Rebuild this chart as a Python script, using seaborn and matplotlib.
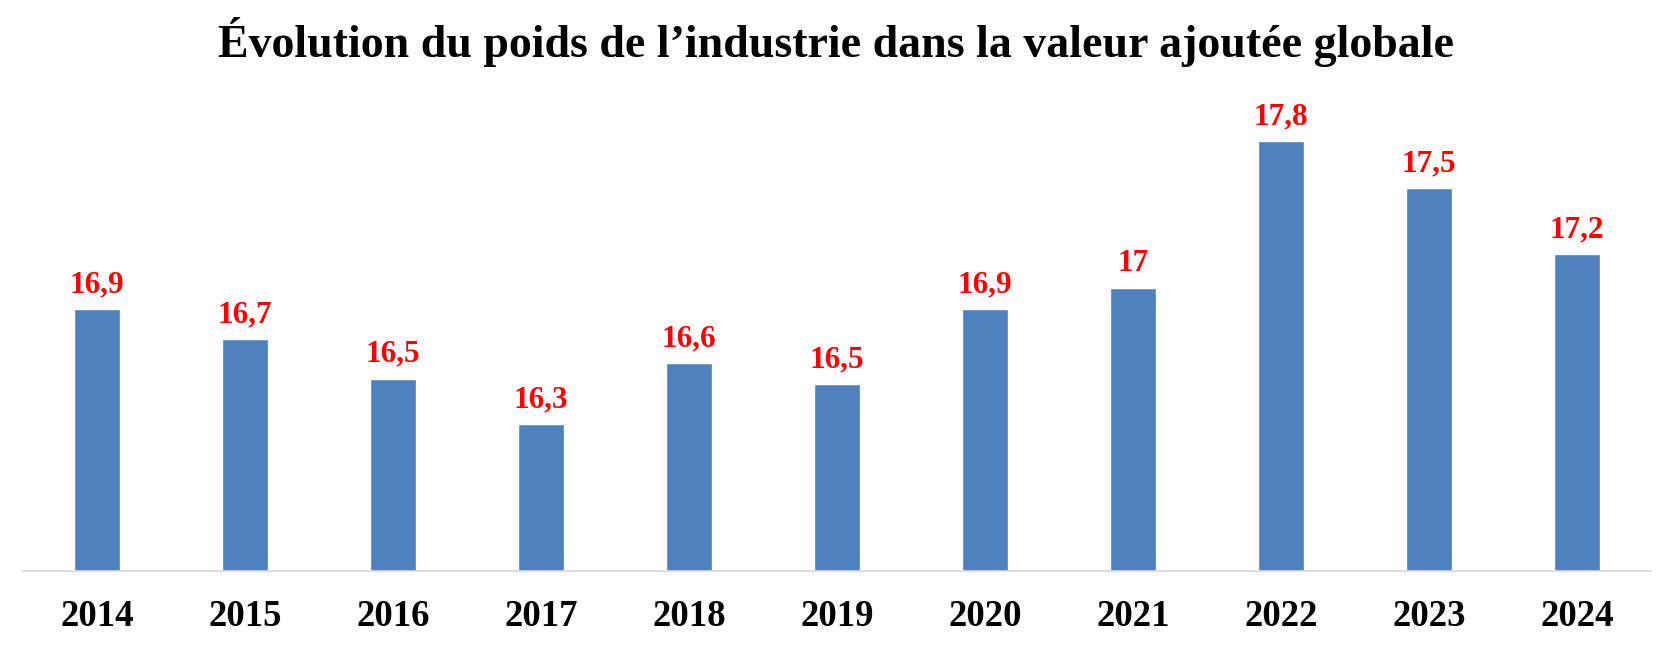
import matplotlib
matplotlib.use("Agg")
import matplotlib.pyplot as plt
import seaborn as sns
import pandas as pd

years = ["2014", "2015", "2016", "2017", "2018", "2019", "2020", "2021", "2022", "2023", "2024"]
values = [16.91, 16.75, 16.54, 16.30, 16.62, 16.51, 16.91, 17.02, 17.80, 17.55, 17.20]
value_labels = ["16,9", "16,7", "16,5", "16,3", "16,6", "16,5", "16,9", "17", "17,8", "17,5", "17,2"]
title = "Évolution du poids de l’industrie dans la valeur ajoutée globale"

sns.set_theme(style="white")
plt.rcParams["font.family"] = ["Liberation Serif", "DejaVu Serif"]

df = pd.DataFrame({"year": years, "value": values})

W, H = 1673, 650
fig = plt.figure(figsize=(W / 100, H / 100), dpi=100)
ymin, ymax = 15.52, 18.0
ppu = 188.7
ax_h = (ymax - ymin) * ppu
ax = fig.add_axes([23 / W, 79 / H, (1651 - 23) / W, ax_h / H])

sns.barplot(data=df, x="year", y="value", color="#4F81BD", width=0.31,
            saturation=1, ax=ax)
ax.set_ylim(ymin, ymax)
ax.set_xlim(-0.5, len(years) - 0.5)

for s in ["top", "right", "left"]:
    ax.spines[s].set_visible(False)
ax.spines["bottom"].set_color("#D9D9D9")
ax.spines["bottom"].set_linewidth(1.2)
ax.set_yticks([])
ax.set_xlabel("")
ax.set_ylabel("")
ax.tick_params(axis="x", length=0, pad=20, labelsize=26.5)
for t in ax.get_xticklabels():
    t.set_fontweight("bold")
    t.set_color("black")

ax.bar_label(ax.containers[0], labels=value_labels, padding=7, color="#FF0000",
             fontsize=22.5, fontweight="bold")

fig.text(0.4997, 1 - 57 / H, title, ha="center", va="baseline",
         fontsize=33, fontweight="bold", color="black")

fig.savefig("out.png", dpi=100, facecolor="white")
